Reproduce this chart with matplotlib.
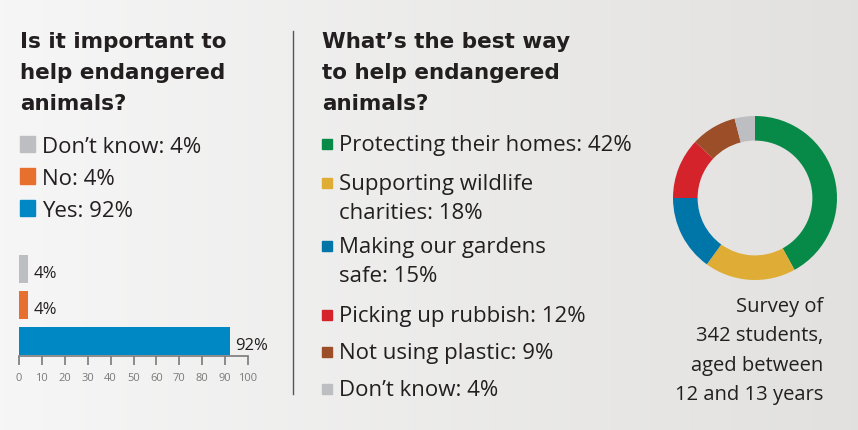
import matplotlib
matplotlib.use("Agg")
import matplotlib.pyplot as plt
import numpy as np

plt.rcParams['font.family'] = ['Open Sans', 'DejaVu Sans']

# left panel data
q1_labels = ["Don’t know", "No", "Yes"]
q1_values = [4, 4, 92]
q1_colors = ["#bdbec2", "#e8702e", "#0088c4"]

# right panel data
q2_labels = ["Protecting their homes", "Supporting wildlife\ncharities",
             "Making our gardens\nsafe", "Picking up rubbish",
             "Not using plastic", "Don’t know"]
q2_values = [42, 18, 15, 12, 9, 4]
q2_colors = ["#078a48", "#dfad35", "#0076a8", "#d4232b", "#9c4e28", "#bdbec2"]

survey_note = "Survey of\n342 students,\naged between\n12 and 13 years"

W, H = 858, 431
txt = "#231f20"
fig = plt.figure(figsize=(W / 100, H / 100), dpi=100)

# background + text layer in pixel coords
bg = fig.add_axes([0, 0, 1, 1])
grad = np.linspace(0, 1, 256).reshape(1, -1)
c0 = np.array([0.965, 0.965, 0.965])
c1 = np.array([0.886, 0.882, 0.875])
img = c0 + (c1 - c0) * grad[..., None]
bg.imshow(img, extent=[0, W, H, 0], aspect='auto')
bg.set_xlim(0, W)
bg.set_ylim(H, 0)
bg.axis('off')

fs = 16
title_font = ['DejaVu Sans']
bg.text(20, 32, "Is it important to\nhelp endangered\nanimals?", fontsize=15.5,
        family=title_font, fontweight='bold', color=txt, va='top', ha='left',
        linespacing=1.7)
for i, (lab, v, c) in enumerate(zip(q1_labels, q1_values, q1_colors)):
    y = 145 + i * 32
    bg.add_patch(plt.Rectangle((20, y - 8), 15, 16, color=c))
    bg.text(42, y + 3, f"{lab}: {v}%", fontsize=fs, color=txt, va='center')

bg.plot([293, 293], [32, 395], color="#555555", lw=1)

bg.text(322, 32, "What’s the best way\nto help endangered\nanimals?", fontsize=15.5,
        family=title_font, fontweight='bold', color=txt, va='top', ha='left',
        linespacing=1.7)
ys = [145, 184, 247, 316, 353, 390]
for y, lab, v, c in zip(ys, q2_labels, q2_values, q2_colors):
    bg.add_patch(plt.Rectangle((322, y - 5), 10, 10, color=c))
    bg.text(339, y - 10, f"{lab}: {v}%", fontsize=fs, color=txt, va='top',
            linespacing=1.5)

bg.text(823, 297, survey_note, fontsize=14.5, color=txt, ha='right', va='top',
        linespacing=1.62)

# bar chart
bx = fig.add_axes([19 / W, 1 - 357 / H, 229 / W, 105 / H])
bx.patch.set_alpha(0)
pos = [2, 1, 0]
bx.barh(pos, q1_values, height=0.78, color=q1_colors)
for p, v in zip(pos, q1_values):
    bx.text(v + 2.5, p - 0.12, f"{v}%", fontsize=12, color=txt, va='center')
bx.set_xlim(0, 100)
bx.set_ylim(-0.43, 2.49)
bx.set_xticks(np.arange(0, 101, 10))
bx.set_yticks([])
for s in ['top', 'right', 'left']:
    bx.spines[s].set_visible(False)
bx.spines['bottom'].set_color("#7a7a7a")
bx.spines['bottom'].set_linewidth(1.2)
bx.tick_params(axis='x', direction='out', length=6.5, width=1.2, color="#7a7a7a",
               labelsize=8, labelcolor="#7a7a7a", pad=5)

# donut
cx, cy, r = 755, 199, 82
dx = fig.add_axes([(cx - r) / W, 1 - (cy + r) / H, 2 * r / W, 2 * r / H])
dx.pie(q2_values, colors=q2_colors, startangle=90, counterclock=False,
       radius=1, wedgeprops=dict(width=0.3, linewidth=0))
dx.set_xlim(-1, 1)
dx.set_ylim(-1, 1)
dx.set_aspect('equal')
dx.axis('off')

fig.savefig("out.png", dpi=100)
